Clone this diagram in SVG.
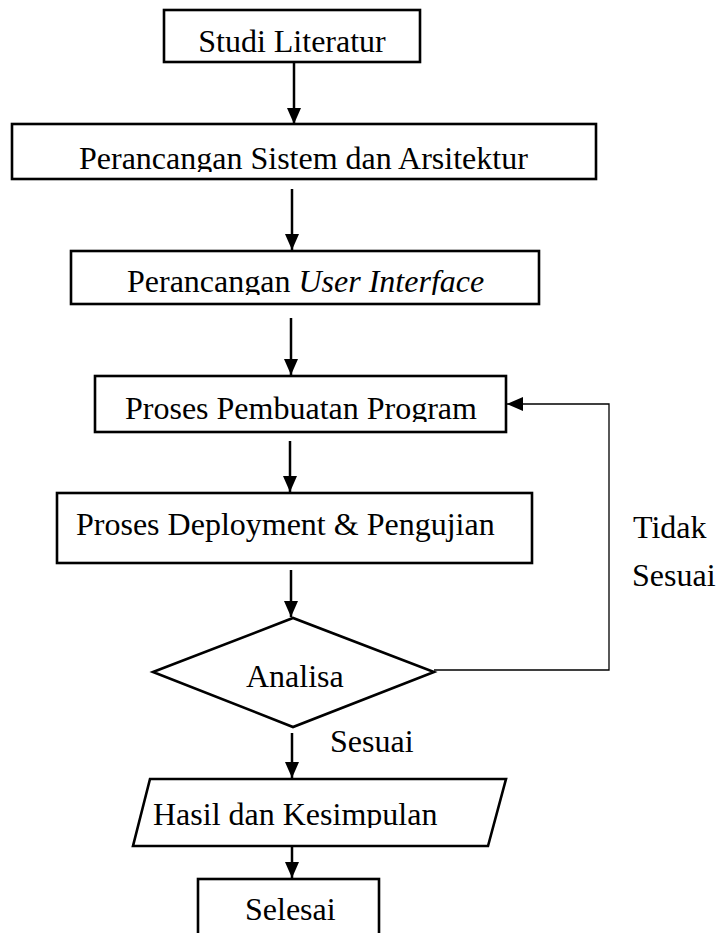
<svg xmlns="http://www.w3.org/2000/svg" width="717" height="933" viewBox="0 0 717 933">
<style>
  .box { fill: #fff; stroke: #000; stroke-width: 2.6; }
  .lbl { font-family: "Liberation Serif", "Times New Roman", serif; font-size: 32px; fill: #000; }
  .conn { fill: none; stroke: #000; stroke-width: 2.5; }
  .thin { fill: none; stroke: #000; stroke-width: 1.3; }
</style>
<defs>
  <marker id="ah" markerUnits="userSpaceOnUse" viewBox="0 0 16 14" refX="16" refY="7" markerWidth="16" markerHeight="14" orient="auto">
    <path d="M0,0 L16,7 L0,14 Z" fill="#000"/>
  </marker>
  <clipPath id="c2"><rect x="12" y="124" width="584" height="48"/></clipPath>
  <clipPath id="c3"><rect x="71" y="251" width="468" height="44"/></clipPath>
  <clipPath id="c4"><rect x="95" y="376" width="411" height="46"/></clipPath>
  <clipPath id="c7"><rect x="133" y="779" width="373" height="49"/></clipPath>
</defs>
<rect width="717" height="933" fill="#fff"/>
<g id="connectors">
  <line class="conn" x1="294" y1="63" x2="294" y2="124" marker-end="url(#ah)"/>
  <line class="conn" x1="292" y1="189" x2="292" y2="250" marker-end="url(#ah)"/>
  <line class="conn" x1="291" y1="318" x2="291" y2="375" marker-end="url(#ah)"/>
  <line class="conn" x1="290" y1="441" x2="290" y2="492" marker-end="url(#ah)"/>
  <line class="conn" x1="291" y1="570" x2="291" y2="617" marker-end="url(#ah)"/>
  <line class="conn" x1="292" y1="733" x2="292" y2="778" marker-end="url(#ah)"/>
  <line class="conn" x1="292" y1="846" x2="292" y2="878" marker-end="url(#ah)"/>
  <polyline class="thin" points="434,670 609,670 609,404 507,404" marker-end="url(#ah)"/>
  <text class="lbl" x="330" y="752">Sesuai</text>
  <text class="lbl" x="633" y="538">Tidak</text>
  <text class="lbl" x="632" y="586">Sesuai</text>
</g>
<g id="studi">
  <rect class="box" x="164" y="10" width="256" height="52"/>
  <text class="lbl" x="292" y="52" text-anchor="middle">Studi Literatur</text>
</g>
<g id="perancangan-sistem">
  <rect class="box" x="12" y="124" width="584" height="55"/>
  <text class="lbl" x="79" y="169" clip-path="url(#c2)">Perancangan Sistem dan Arsitektur</text>
</g>
<g id="perancangan-ui">
  <rect class="box" x="71" y="251" width="468" height="53"/>
  <text class="lbl" x="127" y="292" clip-path="url(#c3)">Perancangan <tspan font-style="italic">User Interface</tspan></text>
</g>
<g id="pembuatan">
  <rect class="box" x="95" y="376" width="411" height="56"/>
  <text class="lbl" x="125" y="419" clip-path="url(#c4)">Proses Pembuatan Program</text>
</g>
<g id="deployment">
  <rect class="box" x="57" y="493" width="475" height="70"/>
  <text class="lbl" x="76" y="535">Proses Deployment &amp; Pengujian</text>
</g>
<g id="analisa">
  <polygon class="box" points="153,672 293,618 434,672 293,727"/>
  <text class="lbl" x="246" y="687">Analisa</text>
</g>
<g id="hasil">
  <polygon class="box" points="150,779 506,779 488,846 133,846"/>
  <text class="lbl" x="153" y="825" clip-path="url(#c7)">Hasil dan Kesimpulan</text>
</g>
<g id="selesai">
  <rect class="box" x="198" y="879" width="181" height="70"/>
  <text class="lbl" x="245" y="920">Selesai</text>
</g>
</svg>
